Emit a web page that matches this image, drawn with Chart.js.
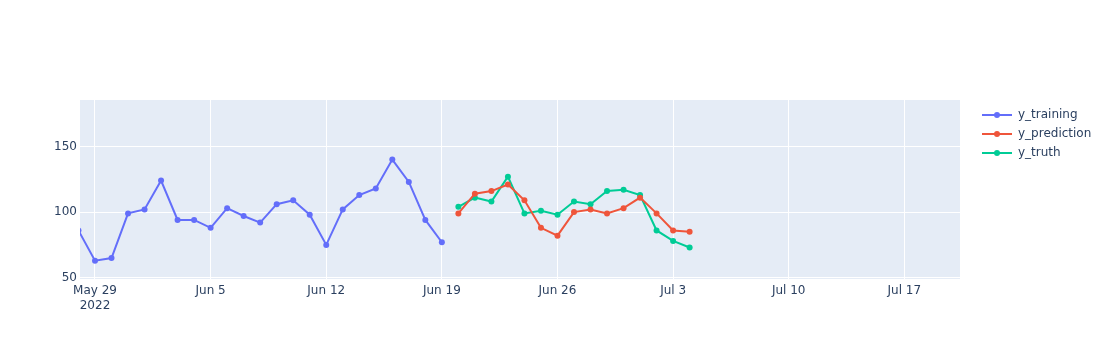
<!DOCTYPE html>
<html>
<head>
<meta charset="utf-8">
<script src="https://cdn.jsdelivr.net/npm/chart.js@4.4.0/dist/chart.umd.min.js"></script>
<style>
  html, body { margin: 0; padding: 0; background: #fff; }
  #wrap { position: relative; width: 1110px; height: 360px; }
</style>
</head>
<body>
<div id="wrap"><canvas id="c" width="1110" height="360"></canvas></div>
<script>
// ---- data ----
const trainingDates = ["2022-05-28","2022-05-29","2022-05-30","2022-05-31","2022-06-01","2022-06-02","2022-06-03","2022-06-04","2022-06-05","2022-06-06","2022-06-07","2022-06-08","2022-06-09","2022-06-10","2022-06-11","2022-06-12","2022-06-13","2022-06-14","2022-06-15","2022-06-16","2022-06-17","2022-06-18","2022-06-19"];
const yTraining = [86, 63, 65, 99, 102, 124, 94, 94, 88, 103, 97, 92, 106, 109, 98, 75, 102, 113, 118, 140, 123, 94, 77];
const forecastDates = ["2022-06-20","2022-06-21","2022-06-22","2022-06-23","2022-06-24","2022-06-25","2022-06-26","2022-06-27","2022-06-28","2022-06-29","2022-06-30","2022-07-01","2022-07-02","2022-07-03","2022-07-04"];
const yPrediction = [99, 114, 116, 121, 109, 88, 82, 100, 102, 99, 103, 111, 99, 86, 85];
const yTruth = [104, 111, 108, 127, 99, 101, 98, 108, 106, 116, 117, 113, 86, 78, 73];
const xTickDates = ["2022-05-29","2022-06-05","2022-06-12","2022-06-19","2022-06-26","2022-07-03","2022-07-10","2022-07-17"];
const xTickLabels = [["May 29","2022"],"Jun 5","Jun 12","Jun 19","Jun 26","Jul 3","Jul 10","Jul 17"];
const yTickValues = [50, 100, 150];
const seriesNames = ["y_training", "y_prediction", "y_truth"];
const seriesColors = ["#636EFA", "#EF553B", "#00CC96"];

// ---- helpers ----
const BASE = Date.UTC(2022, 4, 29);
function dayIdx(s) {
  const p = s.split("-").map(Number);
  return (Date.UTC(p[0], p[1] - 1, p[2]) - BASE) / 864e5;
}
function pts(dates, vals) { return dates.map((d, i) => ({ x: dayIdx(d), y: vals[i] })); }
const tickPos = xTickDates.map(dayIdx);
const tickLabelMap = {};
tickPos.forEach((v, i) => { tickLabelMap[v] = xTickLabels[i]; });

const FONT = '"DejaVu Sans", Verdana, sans-serif';
const FC = '#2a3f5f';

const bgPlugin = {
  id: 'plotbg',
  beforeDraw(chart) {
    const { ctx, chartArea: a } = chart;
    ctx.save();
    ctx.fillStyle = '#E5ECF6';
    ctx.fillRect(a.left, a.top, a.right - a.left, a.bottom - a.top);
    ctx.restore();
  }
};

const legendPlugin = {
  id: 'plegend',
  afterDraw(chart) {
    const ctx = chart.ctx;
    ctx.save();
    const x0 = 982, x1 = 1012, tx = 1018;
    const ys = [115, 134, 153];
    seriesNames.forEach((n, i) => {
      const y = ys[i];
      ctx.strokeStyle = seriesColors[i];
      ctx.lineWidth = 2;
      ctx.beginPath(); ctx.moveTo(x0, y); ctx.lineTo(x1, y); ctx.stroke();
      ctx.fillStyle = seriesColors[i];
      ctx.beginPath(); ctx.arc((x0 + x1) / 2, y, 3, 0, Math.PI * 2); ctx.fill();
      ctx.fillStyle = FC;
      ctx.font = '12px ' + FONT;
      ctx.textBaseline = 'middle';
      ctx.textAlign = 'left';
      ctx.fillText(n, tx, y);
    });
    ctx.restore();
  }
};

const mk = (label, data, color) => ({
  label, data,
  borderColor: color, backgroundColor: color,
  pointBackgroundColor: color, pointBorderColor: color,
  borderWidth: 2, pointRadius: 3, pointBorderWidth: 0, pointHoverRadius: 3,
  tension: 0, clip: 0
});

new Chart(document.getElementById('c'), {
  type: 'line',
  data: {
    datasets: [
      mk(seriesNames[0], pts(trainingDates, yTraining), seriesColors[0]),
      mk(seriesNames[1], pts(forecastDates, yPrediction), seriesColors[1]),
      mk(seriesNames[2], pts(forecastDates, yTruth), seriesColors[2])
    ]
  },
  options: {
    responsive: false,
    animation: false,
    layout: { padding: { left: 0, right: 150, top: 100, bottom: 0 } },
    plugins: { legend: { display: false }, tooltip: { enabled: false } },
    scales: {
      x: {
        type: 'linear',
        min: -0.908, max: 52.37,
        afterBuildTicks(s) { s.ticks = tickPos.map(v => ({ value: v })); },
        afterFit(s) { s.height = 81; },
        grid: { color: '#ffffff', lineWidth: 1, drawTicks: false },
        border: { display: false },
        ticks: {
          autoSkip: false, maxRotation: 0, padding: 4,
          color: FC, font: { family: FONT, size: 12, lineHeight: 1.27 },
          callback: (v) => tickLabelMap[v] !== undefined ? tickLabelMap[v] : ''
        }
      },
      y: {
        type: 'linear',
        min: 49, max: 185.4,
        afterBuildTicks(s) { s.ticks = yTickValues.map(v => ({ value: v })); },
        afterFit(s) { s.width = 80; },
        grid: { color: '#ffffff', lineWidth: 1, drawTicks: false },
        border: { display: false },
        ticks: {
          padding: 3, color: FC, font: { family: FONT, size: 12 },
          callback: (v) => String(v)
        }
      }
    }
  },
  plugins: [bgPlugin, legendPlugin]
});
</script>
</body>
</html>
